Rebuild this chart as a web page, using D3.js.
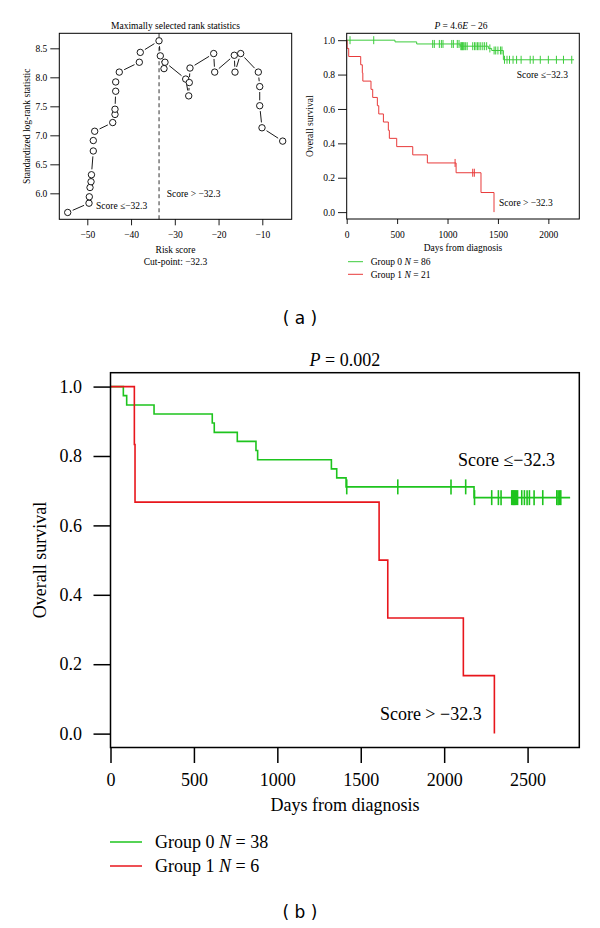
<!DOCTYPE html>
<html><head><meta charset="utf-8">
<script src="https://cdn.jsdelivr.net/npm/d3@7"></script>
<style>
body{margin:0;background:#fff}
svg{display:block}
text{font-family:"Liberation Serif","Times New Roman",serif;fill:#000}
</style></head><body>
<svg id="c" width="600" height="928"></svg>
<script>
// ---------- data: maximally selected rank statistics ----------
const rankScore = [-54.48,-49.61,-49.54,-49.38,-49.15,-49.05,-48.63,-48.63,-48.31,-44.19,-43.67,-43.67,-43.51,-43.51,-42.69,-38.11,-37.89,-33.61,-33.31,-32.47,-32.24,-27.51,-26.82,-26.69,-26.53,-21.11,-20.88,-16.40,-16.24,-14.94,-10.91,-10.59,-10.59,-10.07,-5.34];
const rankStat  = [5.67,5.83,5.94,6.10,6.20,6.32,6.73,6.91,7.07,7.22,7.36,7.45,7.76,7.92,8.09,8.26,8.43,8.63,8.37,8.15,8.26,7.97,7.68,7.91,8.16,8.41,8.09,8.38,8.09,8.41,8.09,7.84,7.51,7.13,6.90];
const cutLineScore = -33.6;
const rankXTicks = [-50,-40,-30,-20,-10];
const rankYTicks = [6.0,6.5,7.0,7.5,8.0,8.5];

// ---------- data: Kaplan-Meier panel (a) ----------
const survTicks = [0,0.2,0.4,0.6,0.8,1.0];
const daysTicksA = [0,500,1000,1500,2000];
const a0Times = [0,479,694,1125,1405,1438,1554];
const a0Surv  = [1,0.990,0.978,0.965,0.952,0.940,0.886];
const a0End = 2255;
const a0Censor = [33,268,853,869,919,939,955,1042,1058,1097,1114,1132,1140,1148,1156,1165,1180,1195,1250,1268,1282,1298,1312,1330,1350,1368,1388,1420,1462,1478,1500,1525,1540,1565,1590,1615,1650,1685,1730,1820,1850,1920,2000,2080,2150,2232];
const a1Times = [0,4,20,139,155,160,241,258,304,318,364,413,423,496,655,800,1085,1332,1461];
const a1Surv  = [1,0.952,0.905,0.857,0.810,0.762,0.714,0.667,0.619,0.571,0.524,0.476,0.429,0.381,0.333,0.286,0.229,0.114,0];
const a1End = 1461;
const a1Censor = [1075,1250,1266];

// ---------- data: Kaplan-Meier panel (b) ----------
const daysTicksB = [0,500,1000,1500,2000,2500];
const b0Times = [0,77,97,261,610,622,760,872,882,1324,1356,1412,2179];
const b0Surv  = [1,0.974,0.947,0.921,0.895,0.868,0.842,0.816,0.789,0.763,0.737,0.711,0.680];
const b0End = 2755;
const b0Censor = [1416,1722,2041,2129,2182,2285,2325,2341,2405,2411,2416,2421,2427,2433,2440,2465,2481,2497,2511,2539,2591,2675,2683,2691,2699];
const b1Times = [0,143,147,1610,1662,2115,2301];
const b1Surv  = [1,0.833,0.667,0.5,0.333,0.167,0];
const b1End = 2301;
const b1Censor = [];

const GREEN_A = "#3ccc3c", RED_A = "#e83a3a";
const GREEN_B = "#1ec41e", RED_B = "#e8161c";
const SERIF = '"Liberation Serif","Times New Roman",serif';

const svg = d3.select("#c");

function styleAxis(g, fs, sw){
  g.attr("font-family", SERIF).attr("font-size", fs);
  g.select(".domain").remove();
  g.selectAll(".tick line").attr("stroke","#000").attr("stroke-width", sw);
  g.selectAll(".tick text").attr("fill","#000");
}
function box(x0,x1,y0,y1,sw){
  svg.append("rect").attr("x",x0).attr("y",y0).attr("width",x1-x0).attr("height",y1-y0)
    .attr("fill","none").attr("stroke","#000").attr("stroke-width",sw);
}

// =============== Panel (a) left: rank statistics ===============
{
  const L=59.3,R=291.7,T=33.3,B=219.3;
  const x = d3.scaleLinear().domain([-56.4,-3.28]).range([L,R]);
  const y = d3.scaleLinear().domain([5.552,8.759]).range([B,T]);
  const fs = 9.5;
  // dashed cut line
  svg.append("line").attr("x1",x(cutLineScore)).attr("x2",x(cutLineScore)).attr("y1",T).attr("y2",B)
    .attr("stroke","#555").attr("stroke-width",1.2).attr("stroke-dasharray","4,3");
  // type="b" segments with gaps
  const r = 3.2, gap = r + 2.2;
  const pts = rankScore.map((s,i)=>[x(s), y(rankStat[i])]);
  for(let i=0;i<pts.length-1;i++){
    const [x1,y1]=pts[i],[x2,y2]=pts[i+1];
    const d=Math.hypot(x2-x1,y2-y1);
    if(d>2*gap+0.5){
      const ux=(x2-x1)/d, uy=(y2-y1)/d;
      svg.append("line").attr("x1",x1+ux*gap).attr("y1",y1+uy*gap)
        .attr("x2",x2-ux*gap).attr("y2",y2-uy*gap).attr("stroke","#000").attr("stroke-width",0.9);
    }
  }
  svg.append("g").selectAll("circle").data(pts).join("circle")
    .attr("cx",d=>d[0]).attr("cy",d=>d[1]).attr("r",r)
    .attr("fill","#fff").attr("stroke","#000").attr("stroke-width",0.9);
  box(L,R,T,B,1);
  const fmtMinus = d=>d3.format("d")(d).replace("-","\u2212");
  const gx = svg.append("g").attr("transform",`translate(0,${B})`)
    .call(d3.axisBottom(x).tickValues(rankXTicks).tickSize(6).tickPadding(6).tickFormat(fmtMinus));
  styleAxis(gx,fs,0.9);
  const gy = svg.append("g").attr("transform",`translate(${L},0)`)
    .call(d3.axisLeft(y).tickValues(rankYTicks).tickSize(9).tickPadding(3).tickFormat(d3.format(".1f")));
  styleAxis(gy,fs,0.9);
  svg.append("text").attr("x",(L+R)/2).attr("y",29).attr("text-anchor","middle").attr("font-size",fs)
    .text("Maximally selected rank statistics");
  svg.append("text").attr("x",(L+R)/2).attr("y",252.7).attr("text-anchor","middle").attr("font-size",fs)
    .text("Risk score");
  svg.append("text").attr("x",(L+R)/2).attr("y",264.5).attr("text-anchor","middle").attr("font-size",fs)
    .text("Cut-point: \u221232.3");
  svg.append("text").attr("transform",`translate(30,${(T+B)/2}) rotate(-90)`).attr("text-anchor","middle")
    .attr("font-size",fs).text("Standardized log-rank statistic");
  svg.append("text").attr("x",166.7).attr("y",197).attr("font-size",fs).text("Score >  \u221232.3");
  svg.append("text").attr("x",96).attr("y",208.8).attr("font-size",fs).text("Score \u2264\u221232.3");
}

// =============== KM helper ===============
function kmCurve(x,y,times,surv,end,censor,color,sw,ch){
  const pts = times.map((t,i)=>[t,surv[i]]);
  pts.push([end, surv[surv.length-1]]);
  const line = d3.line().x(d=>x(d[0])).y(d=>y(d[1])).curve(d3.curveStepAfter);
  svg.append("path").attr("d",line(pts)).attr("fill","none").attr("stroke",color).attr("stroke-width",sw);
  const look = t => { let s=surv[0]; for(let i=0;i<times.length;i++){ if(times[i]<=t) s=surv[i]; } return s; };
  svg.append("g").selectAll("line").data(censor).join("line")
    .attr("x1",d=>x(d)).attr("x2",d=>x(d)).attr("y1",d=>y(look(d))-ch).attr("y2",d=>y(look(d))+ch)
    .attr("stroke",color).attr("stroke-width",sw);
}
function richText(sel, parts){
  parts.forEach(p=>{
    const ts = sel.append("tspan").text(p[0]);
    if(p[1]) ts.attr("font-style","italic");
  });
}

// =============== Panel (a) right: KM ===============
{
  const L=346.7,R=579.3,T=33.3,B=219;
  const x = d3.scaleLinear().domain([0,2307]).range([L,R]);
  const y = d3.scaleLinear().domain([-0.04,1.04]).range([B,T]);
  const fs = 9.5;
  kmCurve(x,y,a0Times,a0Surv,a0End,a0Censor,GREEN_A,1,4);
  kmCurve(x,y,a1Times,a1Surv,a1End,a1Censor,RED_A,1,4);
  box(L,R,T,B,1);
  const gx = svg.append("g").attr("transform",`translate(0,${B})`)
    .call(d3.axisBottom(x).tickValues(daysTicksA).tickSize(5).tickPadding(7).tickFormat(d3.format("d")));
  styleAxis(gx,fs,0.9);
  const gy = svg.append("g").attr("transform",`translate(${L},0)`)
    .call(d3.axisLeft(y).tickValues(survTicks).tickSize(8.7).tickPadding(3).tickFormat(d3.format(".1f")));
  styleAxis(gy,fs,0.9);
  const t = svg.append("text").attr("x",461).attr("y",29).attr("text-anchor","middle").attr("font-size",fs);
  richText(t,[["P",1],[" = 4.6",0],["E",1],[" \u2212 26",0]]);
  svg.append("text").attr("x",(L+R)/2).attr("y",250.6).attr("text-anchor","middle").attr("font-size",fs)
    .text("Days from diagnosis");
  svg.append("text").attr("transform",`translate(313,${(T+B)/2}) rotate(-90)`).attr("text-anchor","middle")
    .attr("font-size",fs).text("Overall survival");
  svg.append("text").attr("x",516.7).attr("y",78).attr("font-size",fs).text("Score \u2264\u221232.3");
  svg.append("text").attr("x",499).attr("y",206).attr("font-size",fs).text("Score >  \u221232.3");
  const leg = [["Group 0 ","N"," = 86",GREEN_A,261.7],["Group 1 ","N"," = 21",RED_A,274.3]];
  leg.forEach(l=>{
    svg.append("line").attr("x1",348).attr("x2",363).attr("y1",l[4]).attr("y2",l[4]).attr("stroke",l[3]).attr("stroke-width",1);
    const tt = svg.append("text").attr("x",370.7).attr("y",l[4]+3.3).attr("font-size",fs);
    richText(tt,[[l[0],0],[l[1],1],[l[2],0]]);
  });
}

// =============== Panel (b): KM ===============
{
  const L=110.5,R=579.3,T=372.7,B=747.5;
  const x = d3.scaleLinear().domain([0,2810]).range([L,R]);
  const y = d3.scaleLinear().domain([-0.04,1.04]).range([B,T]);
  const fs = 18;
  kmCurve(x,y,b0Times,b0Surv,b0End,b0Censor,GREEN_B,1.6,7.5);
  kmCurve(x,y,b1Times,b1Surv,b1End,b1Censor,RED_B,1.6,7.5);
  box(L,R,T,B,1.5);
  const gx = svg.append("g").attr("transform",`translate(0,${B})`)
    .call(d3.axisBottom(x).tickValues(daysTicksB).tickSize(15.5).tickPadding(10).tickFormat(d3.format("d")));
  styleAxis(gx,fs,1.5);
  const gy = svg.append("g").attr("transform",`translate(${L},0)`)
    .call(d3.axisLeft(y).tickValues(survTicks).tickSize(17).tickPadding(11.5).tickFormat(d3.format(".1f")));
  styleAxis(gy,fs,1.5);
  const t = svg.append("text").attr("x",(L+R)/2).attr("y",366).attr("text-anchor","middle").attr("font-size",fs);
  richText(t,[["P",1],[" = 0.002",0]]);
  svg.append("text").attr("x",(L+R)/2).attr("y",811).attr("text-anchor","middle").attr("font-size",fs)
    .text("Days from diagnosis");
  svg.append("text").attr("transform",`translate(46,${(T+B)/2}) rotate(-90)`).attr("text-anchor","middle")
    .attr("font-size",fs).text("Overall survival");
  svg.append("text").attr("x",458).attr("y",466).attr("font-size",fs).text("Score \u2264\u221232.3");
  svg.append("text").attr("x",481.7).attr("y",720).attr("text-anchor","end").attr("font-size",fs).text("Score > \u221232.3");
  const leg = [["Group 0 ","N"," = 38",GREEN_B,842],["Group 1 ","N"," = 6",RED_B,866]];
  leg.forEach(l=>{
    svg.append("line").attr("x1",110).attr("x2",142).attr("y1",l[4]).attr("y2",l[4]).attr("stroke",l[3]).attr("stroke-width",1.5);
    const tt = svg.append("text").attr("x",155).attr("y",l[4]+6).attr("font-size",fs);
    richText(tt,[[l[0],0],[l[1],1],[l[2],0]]);
  });
}

// panel labels
svg.append("text").attr("x",300).attr("y",324).attr("text-anchor","middle")
  .style("font-family",'"DejaVu Sans",sans-serif').attr("font-size",17).text("( a )");
svg.append("text").attr("x",300).attr("y",918).attr("text-anchor","middle")
  .style("font-family",'"DejaVu Sans",sans-serif').attr("font-size",17).text("( b )");
</script>
</body></html>
